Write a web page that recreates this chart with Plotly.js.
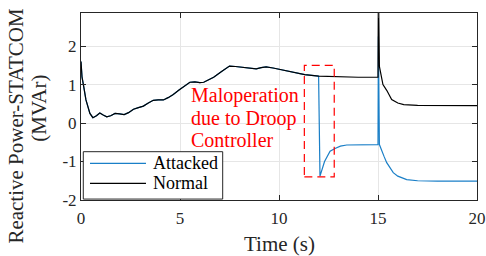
<!DOCTYPE html>
<html>
<head>
<meta charset="utf-8">
<script src="https://cdn.plot.ly/plotly-3.0.1.min.js"></script>
<style>html,body{margin:0;padding:0;background:#fff;}#chart{width:486px;height:256px;}</style>
</head>
<body>
<div id="chart"></div>
<script>
// Normal operation (black)
const normalTime = [0, 0.05, 0.12, 0.25, 0.45, 0.6, 0.78, 0.95, 1.12, 1.3, 1.5, 1.72, 1.95, 2.18, 2.4, 2.65, 2.9, 3.15, 3.4, 3.65, 3.9, 4.16, 4.4, 4.66, 4.95, 5.25, 5.5, 5.75, 6.0, 6.2, 6.45, 6.7, 7.1, 7.5, 7.8, 8.1, 8.4, 8.85, 9.1, 9.35, 9.7, 10.05, 10.7, 11.3, 12.0, 13.0, 14.0, 15.0, 15.02, 15.07, 15.25, 15.44, 15.69, 16.0, 16.3, 17.0, 18.0, 20.0];
const normalPower = [1.6, 1.2, 1.0, 0.6, 0.25, 0.14, 0.19, 0.26, 0.21, 0.16, 0.19, 0.25, 0.24, 0.22, 0.27, 0.36, 0.40, 0.44, 0.52, 0.59, 0.6, 0.6, 0.66, 0.74, 0.86, 0.98, 1.06, 1.07, 1.05, 1.06, 1.12, 1.19, 1.34, 1.48, 1.47, 1.45, 1.43, 1.41, 1.44, 1.46, 1.43, 1.39, 1.32, 1.26, 1.22, 1.2, 1.19, 1.19, 3.6, 1.47, 1.0, 0.85, 0.61, 0.52, 0.48, 0.46, 0.455, 0.455];

// Attacked (blue): follows normal up to t = 12 s, then
const attackTime = [12.07, 12.3, 12.58, 12.83, 13.1, 13.42, 14.0, 15.0, 15.02, 15.07, 15.3, 15.44, 15.77, 16.0, 16.45, 17.0, 18.0, 20.0];
const attackPower = [-1.38, -1.0, -0.73, -0.66, -0.6, -0.57, -0.56, -0.56, 2.25, -0.56, -0.86, -1.03, -1.29, -1.38, -1.47, -1.5, -1.51, -1.51];

const attackStart = 12.0;
const nPre = normalTime.filter(t => t <= attackStart).length;
const attackedTime = normalTime.slice(0, nPre).concat(attackTime);
const attackedPower = normalPower.slice(0, nPre).concat(attackPower);

const seriesNames = ["Attacked", "Normal"];
const seriesColors = ["#1a7fc7", "#000000"];

// Highlight box (data units)
const boxX = [11.28, 12.79];
const boxY = [-1.40, 1.50];

const noteLines = ["Maloperation", "due to Droop", "Controller"];
const noteY = [0.72, 0.13, -0.45];
const noteX = 5.47;

const yTicks = [-2, -1, 0, 1, 2];
const yTickText = ["-2", "-1", "0", "1", "2"];
const xTicks = [0, 5, 10, 15, 20];

const serif = "Liberation Serif";
const textCol = '#262626';

const traces = [
  {x: attackedTime, y: attackedPower, type: 'scatter', mode: 'lines', name: seriesNames[0],
   line: {color: seriesColors[0], width: 1.2}},
  {x: normalTime, y: normalPower, type: 'scatter', mode: 'lines', name: seriesNames[1],
   line: {color: seriesColors[1], width: 1.2}}
];

const annotations = noteLines.map((s, i) => ({
  x: noteX, y: noteY[i], xref: 'x', yref: 'y', text: s, showarrow: false,
  xanchor: 'left', yanchor: 'middle', font: {family: serif, size: 20, color: '#ff0000'}
}));
annotations.push({x: -0.165, y: 0.396, xref: 'paper', yref: 'paper', text: 'Reactive Power-STATCOM',
  textangle: -90, showarrow: false, xanchor: 'center', yanchor: 'middle',
  font: {family: serif, size: 21, color: textCol}});
annotations.push({x: -0.108, y: 0.489, xref: 'paper', yref: 'paper', text: '(MVAr)',
  textangle: -90, showarrow: false, xanchor: 'center', yanchor: 'middle',
  font: {family: serif, size: 21, color: textCol}});
annotations.push({x: 0.5025, y: -0.235, xref: 'paper', yref: 'paper', text: 'Time (s)',
  showarrow: false, xanchor: 'center', yanchor: 'middle',
  font: {family: serif, size: 21, color: textCol}});

// Legend box (paper units), drawn like the reference legend
const legBox = {x0: 0.0058, x1: 0.3578, y0: 0.005, y1: 0.2583};
const legRowY = [0.1963, 0.0893];
const legLineX = [0.0227, 0.1641];
const legTextX = 0.1768;

const shapes = [{type: 'rect', xref: 'x', yref: 'y', x0: boxX[0], x1: boxX[1], y0: boxY[0], y1: boxY[1],
            line: {color: '#ff0000', width: 1.2, dash: '8px,5px'}},
  {type: 'rect', xref: 'paper', yref: 'paper', x0: legBox.x0, x1: legBox.x1, y0: legBox.y0, y1: legBox.y1,
   fillcolor: '#ffffff', line: {color: textCol, width: 1}}];
seriesNames.forEach((nm, i) => {
  shapes.push({type: 'line', xref: 'paper', yref: 'paper', x0: legLineX[0], x1: legLineX[1],
    y0: legRowY[i], y1: legRowY[i], line: {color: seriesColors[i], width: 1.2}});
  annotations.push({x: legTextX, y: legRowY[i], xref: 'paper', yref: 'paper', text: nm, showarrow: false,
    xanchor: 'left', yanchor: 'middle', font: {family: serif, size: 18, color: '#000'}});
});

const axisCommon = {ticks: 'inside', ticklen: 5, tickcolor: textCol, showline: true, linecolor: textCol,
  linewidth: 1, mirror: 'ticks', showgrid: true, gridcolor: '#e6e6e6', zeroline: false,
  tickfont: {family: serif, size: 17, color: textCol}, ticklabeloverflow: 'allow'};

const layout = {
  width: 486, height: 256,
  margin: {l: 81, r: 9, t: 13, b: 56},
  paper_bgcolor: '#fff', plot_bgcolor: '#fff',
  font: {family: serif, size: 17, color: textCol},
  showlegend: false,
  xaxis: Object.assign({range: [0, 20], tickmode: 'array', tickvals: xTicks, ticklabelstandoff: 3}, axisCommon),
  yaxis: Object.assign({range: [-2, 2.86], tickmode: 'array', tickvals: yTicks, ticktext: yTickText}, axisCommon),
  shapes: shapes,
  annotations: annotations
};

Plotly.newPlot('chart', traces, layout, {staticPlot: true, displayModeBar: false});
</script>
</body>
</html>
